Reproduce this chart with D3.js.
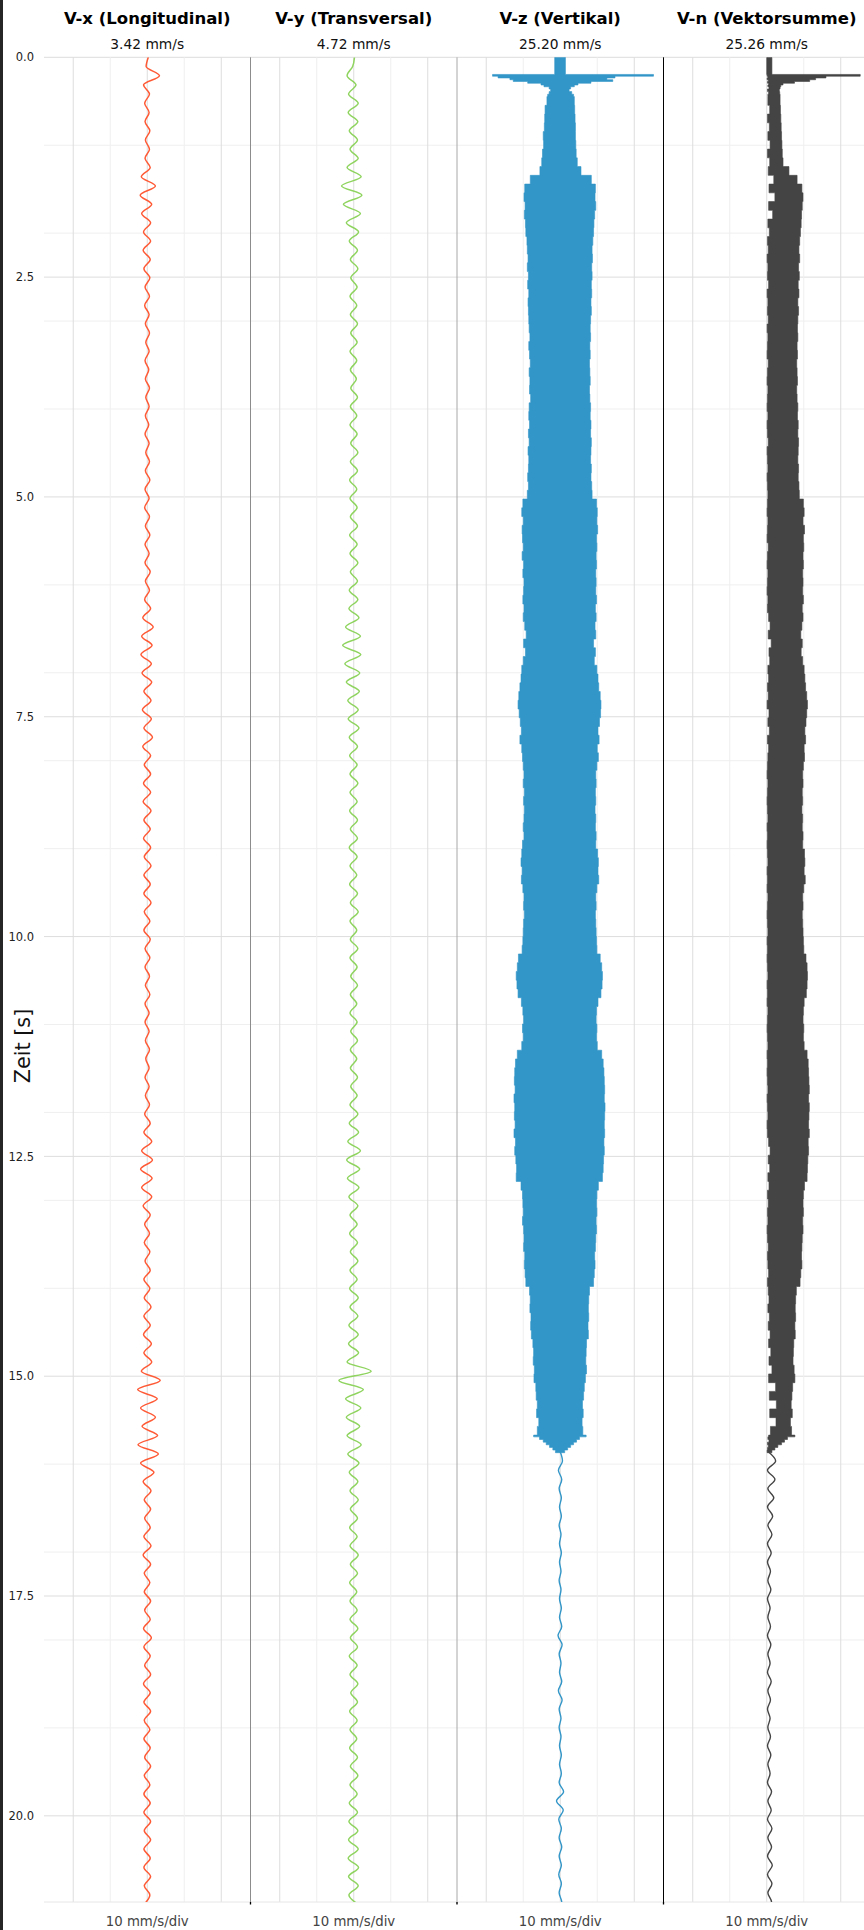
<!DOCTYPE html>
<html lang="de">
<head>
    <meta charset="UTF-8">
    <title>Schwinggeschwindigkeit</title>
    <script src="https://d3js.org/d3.v7.min.js"></script>
    <style>
        body { margin: 0; background: #fff; }
        svg { display: block; font-family: "DejaVu Sans", sans-serif; }
    </style>
</head>
<body>
    <svg width="864" height="1930"></svg>

    <script>
        // Panel titles, peak values and scale note
        const channelNames = ["V-x (Longitudinal)", "V-y (Transversal)", "V-z (Vertikal)", "V-n (Vektorsumme)"];
        const peakLabels = ["3.42 mm/s", "4.72 mm/s", "25.20 mm/s", "25.26 mm/s"];
        const scaleLabel = "10 mm/s/div";
        const channelColors = ["#ff5a36", "#8fd45f", "#3296c8", "#444444"];

        // Time axis (s)
        const timeMax = 20.98;
        const timeTicks = [0, 2.5, 5, 7.5, 10, 12.5, 15, 17.5, 20];
        const timeMinor = [1, 2, 3, 4, 6, 7, 8, 9, 11, 12, 13, 14, 16, 17, 18, 19];
        const velocityMajor = [-20, 0, 20];
        const velocityMinor = [-10, 10];

        // V-x / V-y: successive turning points of the trace (mm/s), one every 0.1045 s
        const wiggleStep = 0.1045;
        const vxPeaks = [
            0.3, -0.3, 3.3, -1.0, 0.6, -0.7, 0.5, -0.6, 0.7, -0.5,
            0.6, -0.6, 0.8, -1.6, 2.2, -1.9, 1.2, -1.5, 0.9, -1.0,
            0.9, -1.1, 0.8, -0.9, 0.7, -0.6, 0.6, -0.7, 0.5, -0.5,
            0.6, -0.4, 0.5, -0.6, 0.4, -0.5, 0.6, -0.4, 0.5, -0.5,
            0.4, -0.6, 0.5, -0.4, 0.6, -0.5, 0.7, -0.6, 0.5, -0.7,
            0.6, -0.5, 0.7, -0.6, 0.5, -0.6, 0.8, -0.5, 0.6, -0.7,
            0.9, -1.2, 1.6, -1.5, 1.3, -1.7, 1.1, -1.4, 1.2, -0.9,
            1.0, -1.3, 1.1, -0.9, 1.4, -1.2, 0.9, -0.8, 0.9, -1.0,
            0.9, -1.1, 1.0, -0.9, 0.8, -1.0, 0.9, -0.8, 1.0, -0.9,
            0.8, -0.9, 1.0, -0.8, 0.7, -0.9, 0.8, -0.6, 0.7, -0.6,
            0.6, -0.5, 0.7, -0.6, 0.5, -0.6, 0.5, -0.5, 0.6, -0.4,
            0.5, -0.6, 0.5, -0.5, 0.6, -0.7, 0.8, -0.9, 1.2, -1.5,
            1.4, -1.8, 1.3, -1.5, 1.2, -1.1, 0.8, -0.7, 0.6, -0.8,
            0.7, -0.6, 0.8, -0.9, 0.7, -0.8, 1.0, -0.9, 0.8, -1.0,
            1.1, -0.9, 1.2, -1.6, 3.5, -2.6, 2.7, -1.8, 2.2, -1.4,
            2.8, -2.5, 3.0, -1.8, 1.8, -1.1, 1.0, -0.8, 0.9, -0.7,
            0.8, -0.9, 1.0, -1.1, 0.9, -0.8, 0.7, -0.8, 0.9, -0.7,
            0.8, -1.0, 1.1, -0.9, 0.8, -0.7, 0.9, -1.0, 0.8, -0.9,
            0.9, -0.8, 0.7, -0.9, 0.8, -0.7, 0.9, -0.8, 0.7, -0.9,
            0.8, -0.9, 0.9, -0.8, 0.9, -0.9, 0.8, -0.9, 0.9, -0.8, 0.7, -0.8
        ];
        const vyPeaks = [
            0.2, -0.3, -1.8, 0.6, -1.4, 1.2, -1.5, 1.1, -1.2, 1.0,
            -1.0, 1.2, -1.8, 2.0, -3.3, 2.2, -2.8, 1.8, -2.0, 1.3,
            -1.2, 1.0, -0.9, 1.1, -0.8, 0.9, -1.0, 0.8, -0.9, 1.0,
            -0.8, 0.9, -1.0, 0.8, -0.9, 0.7, -0.8, 1.0, -0.9, 0.8,
            -1.0, 0.9, -0.8, 1.1, -0.9, 1.0, -1.1, 0.8, -1.0, 0.9,
            -0.9, 1.0, -1.1, 0.9, -1.0, 1.1, -0.9, 1.0, -1.2, 1.1,
            -1.3, 1.4, -2.2, 1.8, -3.0, 1.9, -2.4, 1.6, -2.0, 1.5,
            -1.6, 1.2, -1.5, 1.4, -1.2, 1.0, -1.1, 0.9, -1.0, 1.1,
            -1.0, 0.9, -1.1, 1.0, -0.9, 1.0, -1.2, 0.9, -1.0, 0.8,
            -1.1, 1.0, -0.9, 1.2, -1.0, 0.8, -0.9, 1.1, -1.0, 0.9,
            -0.8, 1.0, -0.9, 0.8, -1.0, 0.9, -0.8, 1.0, -0.9, 0.8,
            -0.9, 1.0, -0.8, 0.9, -1.0, 1.1, -1.2, 1.3, -1.6, 1.8,
            -1.9, 1.6, -1.7, 1.4, -1.3, 1.1, -1.0, 0.9, -1.1, 1.0,
            -0.9, 1.1, -1.0, 0.9, -1.1, 1.2, -1.0, 1.1, -1.3, 1.2,
            -1.4, 1.3, -1.8, 4.7, -4.0, 2.6, -2.2, 1.9, -2.0, 1.6,
            -1.8, 2.0, -1.6, 1.4, -1.2, 1.1, -1.0, 1.2, -0.9, 1.0,
            -1.1, 0.9, -1.0, 1.2, -0.9, 1.0, -1.1, 0.8, -1.0, 0.9,
            -1.0, 1.1, -0.9, 1.0, -1.2, 0.9, -1.0, 1.1, -0.8, 1.0,
            -1.1, 0.9, -1.0, 0.8, -1.1, 1.0, -0.9, 1.1, -1.0, 0.9,
            -1.2, 1.0, -1.3, 1.1, -1.4, 1.2, -1.5, 1.3, -1.4, 1.2, -1.3, 1.1
        ];

        // V-z / V-n: envelope of the dense oscillation (mm/s)
        // impact at the start, irregular times
        const headTimes = [0, 0.195, 0.215, 0.235, 0.255, 0.275, 0.295, 0.315, 0.335, 0.36, 0.39, 0.42];
        const vzHeadLo = [-1.5, -18.3, -16.8, -13.6, -12.7, -8.8, -5.2, -4.4, -3.0, -2.6, -3.0, -3.4];
        const vzHeadHi = [1.4, 25.2, 14.8, 12.6, 14.2, 8.3, 4.8, 3.8, 2.8, 2.4, 3.1, 3.6];
        const vnHeadLo = [0.0, 0.1, 0.3, 0.1, 0.4, 0.2, 0.5, 0.3, 0.6, 0.2, 0.5, 0.3];
        const vnHeadHi = [1.4, 25.26, 16.0, 13.2, 11.6, 7.5, 4.4, 3.8, 3.6, 3.4, 3.5, 3.6];

        // main part, one value every 0.0995 s from 0.447 s
        const bodyStart = 0.447;
        const bodyStep = 0.0995;
        const vzBodyHi = [
            3.8, 3.9, 4.0, 4.1, 4.1, 4.2,
            4.3, 4.6, 5.6, 8.4, 9.5, 9.4, 9.6, 9.3, 9.1, 9.0,
            8.8, 8.6, 8.7, 8.5, 8.6, 8.4, 8.5, 8.3, 8.4, 8.2,
            8.1, 8.2, 8.0, 8.1, 7.9, 8.0, 8.1, 7.9, 8.0, 8.2,
            8.1, 8.3, 8.2, 8.4, 8.3, 8.2, 8.4, 8.3, 8.5, 8.6,
            9.8, 10.0, 9.9, 10.1, 9.8, 9.9, 9.7, 9.8, 9.6, 9.7,
            9.6, 9.8, 9.5, 9.7, 9.4, 9.6, 9.0, 9.5, 9.2, 9.9,
            10.2, 10.4, 10.8, 11.0, 10.9, 10.6, 10.2, 10.5, 10.0, 10.3,
            9.9, 9.6, 9.7, 9.5, 9.6, 9.4, 9.6, 9.5, 9.7, 9.6,
            10.1, 10.3, 10.2, 10.4, 9.9, 9.6, 9.7, 9.5, 9.6, 9.7,
            9.8, 9.9, 10.8, 11.2, 11.4, 11.3, 11.0, 10.2, 9.8, 9.7,
            9.9, 9.8, 10.0, 11.2, 11.6, 11.8, 11.9, 12.0, 11.9, 12.1,
            12.0, 11.9, 12.0, 11.8, 11.9, 11.7, 11.6, 11.4, 10.3, 9.9,
            9.8, 9.9, 9.7, 9.8, 9.6, 9.5, 9.3, 9.4, 9.2, 9.0,
            7.9, 7.7, 7.6, 7.7, 7.5, 7.6, 7.1, 7.0, 6.9, 7.1,
            6.8, 6.5, 6.3, 6.0, 6.2, 5.9, 6.1
        ];
        const vzBodyLo = [
            -3.6, -4.1, -4.2, -4.3, -4.6, -4.5,
            -4.8, -5.0, -5.5, -8.1, -9.6, -9.8, -9.5, -9.7, -9.4, -9.3,
            -9.0, -8.9, -8.7, -8.9, -8.6, -8.8, -8.5, -8.7, -8.6, -8.5,
            -8.4, -8.2, -8.5, -8.3, -8.1, -8.4, -8.2, -8.3, -8.0, -8.4,
            -8.5, -8.3, -8.6, -8.4, -8.7, -8.5, -8.6, -8.8, -8.6, -8.9,
            -10.1, -10.4, -10.0, -10.3, -10.2, -10.0, -10.3, -9.9, -10.1, -9.8,
            -9.9, -10.1, -9.8, -10.0, -9.6, -9.2, -9.9, -9.4, -10.0, -10.4,
            -10.6, -10.9, -11.2, -11.4, -11.1, -10.8, -10.5, -10.9, -10.4, -10.2,
            -10.0, -9.8, -10.0, -9.7, -9.9, -9.7, -9.8, -10.0, -9.8, -10.2,
            -10.4, -10.6, -10.3, -10.5, -10.1, -9.8, -9.9, -9.7, -9.9, -10.0,
            -10.1, -10.3, -11.3, -11.6, -11.9, -11.7, -11.4, -10.5, -10.1, -9.9,
            -10.2, -10.0, -10.4, -11.6, -12.1, -12.3, -12.4, -12.2, -12.5, -12.3,
            -12.4, -12.2, -12.5, -12.1, -12.3, -12.0, -11.8, -11.9, -10.6, -10.2,
            -10.1, -10.0, -10.2, -9.9, -9.8, -9.9, -9.6, -9.7, -9.5, -9.3,
            -8.3, -8.1, -8.2, -7.9, -8.0, -7.8, -7.4, -7.2, -7.3, -7.0,
            -7.1, -6.6, -6.5, -6.2, -6.4, -5.8, -6.2
        ];
        const vnBodyHi = [
            3.6, 3.7, 3.8, 3.9, 4.0, 4.1,
            4.2, 4.4, 6.0, 8.2, 9.5, 9.8, 9.6, 9.4, 9.3, 9.1,
            8.9, 8.7, 8.9, 8.6, 8.8, 8.5, 8.7, 8.4, 8.6, 8.4,
            8.3, 8.4, 8.2, 8.3, 8.1, 8.2, 8.3, 8.1, 8.2, 8.4,
            8.3, 8.5, 8.4, 8.6, 8.5, 8.4, 8.6, 8.5, 8.7, 8.8,
            9.9, 10.1, 9.8, 10.2, 9.9, 10.0, 9.8, 9.9, 9.7, 9.8,
            9.7, 9.9, 9.6, 9.8, 9.5, 9.2, 9.6, 9.3, 9.7, 10.1,
            10.3, 10.5, 10.8, 11.0, 10.8, 10.6, 10.3, 10.5, 10.1, 10.2,
            9.9, 9.7, 9.8, 9.6, 9.7, 9.5, 9.7, 9.6, 9.8, 9.7,
            10.2, 10.3, 10.1, 10.4, 10.0, 9.7, 9.8, 9.6, 9.7, 9.8,
            9.9, 10.0, 10.6, 10.9, 11.0, 10.9, 10.7, 10.1, 9.9, 9.8,
            10.0, 9.9, 10.1, 10.9, 11.2, 11.3, 11.4, 11.5, 11.3, 11.5,
            11.4, 11.3, 11.5, 11.2, 11.3, 11.1, 11.0, 10.9, 10.2, 9.9,
            9.8, 9.9, 9.7, 9.8, 9.6, 9.5, 9.4, 9.5, 9.2, 9.0,
            8.0, 7.8, 7.7, 7.8, 7.6, 7.7, 7.3, 7.2, 7.1, 7.4,
            7.6, 7.0, 6.8, 6.6, 6.9, 6.4, 6.7
        ];
        const vnBodyLo = [
            0.3, 0.8, 0.2, 0.7, 0.3, 0.9,
            0.2, 0.8, 0.4, 1.9, 0.6, 2.2, 0.5, 1.6, 0.3, 0.7,
            0.2, 0.4, 0.1, 0.3, 0.2, 0.5, 0.1, 0.3, 0.2, 0.4,
            0.1, 0.3, 0.2, 0.1, 0.4, 0.2, 0.1, 0.3, 0.2, 0.1,
            0.3, 0.1, 0.2, 0.4, 0.1, 0.2, 0.3, 0.1, 0.2, 0.3,
            0.2, 0.1, 0.3, 0.2, 0.1, 0.4, 0.2, 0.1, 0.3, 0.2,
            0.1, 0.3, 0.2, 0.5, 0.9, 0.4, 1.2, 0.6, 0.8, 0.3,
            0.5, 0.2, 0.4, 0.1, 0.6, 0.3, 0.7, 0.2, 0.5, 0.3,
            0.2, 0.1, 0.3, 0.2, 0.1, 0.2, 0.3, 0.1, 0.2, 0.1,
            0.2, 0.3, 0.1, 0.2, 0.1, 0.3, 0.2, 0.1, 0.2, 0.3,
            0.1, 0.2, 0.1, 0.2, 0.3, 0.1, 0.2, 0.1, 0.3, 0.2,
            0.1, 0.2, 0.3, 0.1, 0.2, 0.1, 0.2, 0.3, 0.1, 0.2,
            0.3, 0.1, 0.2, 0.5, 0.9, 0.4, 0.8, 0.3, 0.6, 0.2,
            0.4, 0.2, 0.3, 0.1, 0.2, 0.4, 0.2, 0.3, 0.5, 0.2,
            0.4, 0.6, 0.3, 0.7, 0.4, 0.9, 0.5, 1.1, 0.6, 1.4,
            0.5, 2.4, 0.7, 2.6, 0.8, 2.5, 1.0
        ];

        // end of the train passage, tapering off
        const endTimes = [15.67, 15.69, 15.72, 15.75, 15.78, 15.81, 15.84, 15.87];
        const vzEndHi = [7.0, 5.2, 4.4, 3.6, 2.8, 2.0, 1.2, 0.4];
        const vzEndLo = [-7.2, -5.6, -4.6, -3.8, -2.9, -2.0, -1.3, -0.4];
        const vnEndHi = [7.6, 5.6, 4.8, 4.0, 3.0, 2.2, 1.4, 0.6];
        const vnEndLo = [0.5, 0.3, 0.6, 0.2, 0.4, 0.2, 0.1, 0.1];

        // afterwards: thin trace, turning points every 0.1045 s from 15.86 s
        const tailStart = 15.86;
        const vzTail = [
            0.0, 0.6, -0.5, 0.4, -0.3, 0.3, -0.2, 0.3, -0.3, 0.2, -0.2,
            0.3, -0.2, 0.2, -0.3, 0.2, -0.2, 0.3, -0.2, 0.4, -0.6,
            0.5, -0.3, 0.2, -0.2, 0.4, -0.5, 0.5, -0.3, 0.2, -0.3,
            0.2, -0.2, 0.3, -0.2, 0.3, -0.3, 0.9, -1.0, 0.8, -0.4,
            0.3, -0.3, 0.4, -0.3, 0.3, -0.4, 0.3, -0.3, 0.4, -0.3
        ];
        const vnTail = [
            0.4, 2.4, 0.2, 2.2, 0.3, 1.9, 0.2, 1.6, 0.3, 1.4, 0.2,
            1.2, 0.2, 1.0, 0.3, 1.1, 0.2, 0.9, 0.3, 1.0, 0.2,
            1.1, 0.3, 0.9, 0.2, 1.2, 0.3, 1.0, 0.2, 0.9, 0.3,
            1.0, 0.2, 1.1, 0.3, 0.9, 0.2, 1.3, 0.3, 1.2, 0.2,
            1.4, 0.3, 1.3, 0.2, 1.5, 0.2, 1.4, 0.3, 1.3, 0.2
        ];

        // ---------------------------------------------------------------
        const width = 864, height = 1930;
        const plotLeft = 44, plotTop = 57.3, plotBottom = 1902;
        const panelWidth = 206.5;
        const xLimit = 27.9;

        const svg = d3.select("svg");

        // dark strip on the left edge
        svg.append("rect")
           .attr("x", 0).attr("y", 0)
           .attr("width", 3).attr("height", height)
           .attr("fill", "#262626");

        const y = d3.scaleLinear().domain([0, timeMax]).range([plotTop, plotBottom]);
        const xScales = channelNames.map((_, i) => d3.scaleLinear()
            .domain([-xLimit, xLimit])
            .range([plotLeft + i * panelWidth, plotLeft + (i + 1) * panelWidth]));

        svg.append("defs").append("clipPath").attr("id", "plotClip")
           .append("rect")
           .attr("x", plotLeft).attr("y", plotTop)
           .attr("width", width - plotLeft).attr("height", plotBottom - plotTop);

        // horizontal grid
        const grid = svg.append("g");
        grid.selectAll("line.hmin").data(timeMinor).enter().append("line")
            .attr("x1", plotLeft).attr("x2", width)
            .attr("y1", d => y(d)).attr("y2", d => y(d))
            .attr("stroke", "#efefef").attr("stroke-width", 1);
        grid.selectAll("line.hmaj").data(timeTicks).enter().append("line")
            .attr("x1", plotLeft).attr("x2", width)
            .attr("y1", d => y(d)).attr("y2", d => y(d))
            .attr("stroke", "#dddddd").attr("stroke-width", 1);

        // vertical grid, per panel
        xScales.forEach(x => {
            grid.selectAll(null).data(velocityMinor).enter().append("line")
                .attr("x1", d => x(d)).attr("x2", d => x(d))
                .attr("y1", plotTop).attr("y2", plotBottom)
                .attr("stroke", "#efefef").attr("stroke-width", 1);
            grid.selectAll(null).data(velocityMajor).enter().append("line")
                .attr("x1", d => x(d)).attr("x2", d => x(d))
                .attr("y1", plotTop).attr("y2", plotBottom)
                .attr("stroke", "#dddddd").attr("stroke-width", 1);
        });

        // bottom edge
        svg.append("line")
           .attr("x1", plotLeft).attr("x2", width)
           .attr("y1", plotBottom).attr("y2", plotBottom)
           .attr("stroke", "#e6e6e6").attr("stroke-width", 1);

        const traces = svg.append("g").attr("clip-path", "url(#plotClip)");

        // V-x and V-y lines
        [vxPeaks, vyPeaks].forEach((peaks, i) => {
            const x = xScales[i];
            const line = d3.line()
                .x(d => x(d))
                .y((d, k) => y(k * wiggleStep))
                .curve(d3.curveMonotoneY);
            traces.append("path")
                .datum(peaks)
                .attr("fill", "none")
                .attr("stroke", channelColors[i])
                .attr("stroke-width", 1.5)
                .attr("d", line);
        });

        // V-z and V-n envelopes
        const bodyTimes = vzBodyHi.map((_, k) => bodyStart + k * bodyStep);
        const envTimes = headTimes.concat(bodyTimes, endTimes);
        const envelopes = [
            { panel: 2, lo: vzHeadLo.concat(vzBodyLo, vzEndLo), hi: vzHeadHi.concat(vzBodyHi, vzEndHi), tail: vzTail },
            { panel: 3, lo: vnHeadLo.concat(vnBodyLo, vnEndLo), hi: vnHeadHi.concat(vnBodyHi, vnEndHi), tail: vnTail }
        ];

        envelopes.forEach(env => {
            const x = xScales[env.panel];
            const rows = envTimes.map((t, k) => ({ t: t, lo: env.lo[k], hi: env.hi[k] }));
            const area = d3.area()
                .y(d => y(d.t))
                .x0(d => x(d.lo))
                .x1(d => x(d.hi))
                .curve(d3.curveStepBefore);
            traces.append("path")
                .datum(rows)
                .attr("fill", channelColors[env.panel])
                .attr("stroke", channelColors[env.panel])
                .attr("stroke-width", 0.6)
                .attr("d", area);

            const tailLine = d3.line()
                .x(d => x(d))
                .y((d, k) => y(tailStart + k * wiggleStep))
                .curve(d3.curveMonotoneY);
            traces.append("path")
                .datum(env.tail)
                .attr("fill", "none")
                .attr("stroke", channelColors[env.panel])
                .attr("stroke-width", 1.4)
                .attr("d", tailLine);
        });

        // panel separators (left spines of panels 2..4)
        const sepColors = ["#8c8c8c", "#a8a8a8", "#000000"];
        sepColors.forEach((c, i) => {
            const sx = xScales[i + 1].range()[0];
            svg.append("line")
               .attr("x1", sx).attr("x2", sx)
               .attr("y1", plotTop).attr("y2", plotBottom + 2)
               .attr("stroke", c).attr("stroke-width", 1);
            svg.append("line")
               .attr("x1", sx).attr("x2", sx)
               .attr("y1", plotBottom).attr("y2", plotBottom + 2.5)
               .attr("stroke", "#000").attr("stroke-width", 1.3);
        });

        // time axis labels
        const yAxis = svg.append("g")
            .attr("transform", `translate(${plotLeft},0)`)
            .call(d3.axisLeft(y).tickValues(timeTicks).tickFormat(d3.format(".1f")).tickSize(0).tickPadding(10));
        yAxis.select(".domain").remove();
        yAxis.attr("font-family", "DejaVu Sans, sans-serif").attr("font-size", 11.5);
        yAxis.selectAll("text").attr("fill", "#222");

        svg.append("text")
           .attr("transform", "translate(30,1046) rotate(-90)")
           .attr("text-anchor", "middle")
           .style("font-size", "20.8px")
           .attr("fill", "#111")
           .text("Zeit [s]");

        // panel titles, peak values, scale note
        channelNames.forEach((name, i) => {
            const cx = d3.mean(xScales[i].range());
            svg.append("text")
               .attr("x", cx).attr("y", 23.5)
               .attr("text-anchor", "middle")
               .style("font-size", "16.5px")
               .style("font-weight", "bold")
               .attr("fill", "#000")
               .text(name);
            svg.append("text")
               .attr("x", cx).attr("y", 48.5)
               .attr("text-anchor", "middle")
               .style("font-size", "13.8px")
               .attr("fill", "#111")
               .text(peakLabels[i]);
            svg.append("text")
               .attr("x", cx).attr("y", 1926)
               .attr("text-anchor", "middle")
               .style("font-size", "13.3px")
               .attr("fill", "#444")
               .text(scaleLabel);
        });
    </script>
</body>
</html>
